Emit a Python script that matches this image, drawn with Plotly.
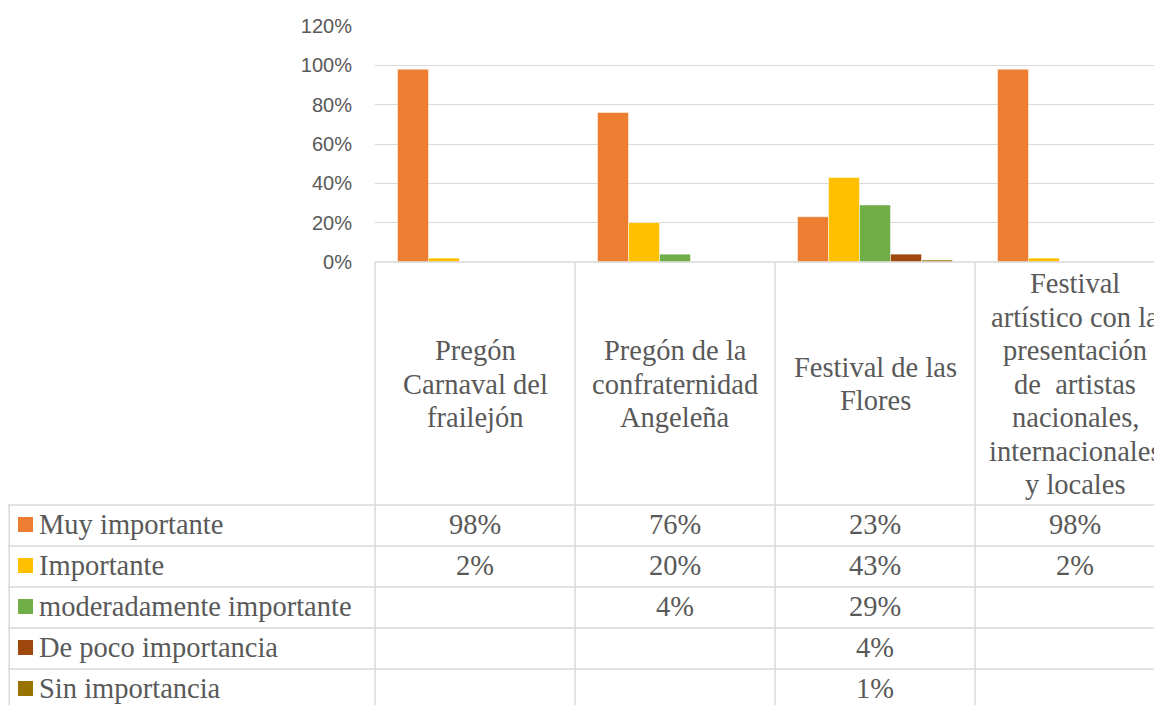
import plotly.graph_objects as go

# datos
categorias = [
    ["Pregón", "Carnaval del", "frailejón"],
    ["Pregón de la", "confraternidad", "Angeleña"],
    ["Festival de las", "Flores"],
    ["Festival", "artístico con la", "presentación", "de  artistas",
     "nacionales,", "internacionales", "y locales"],
]
series = ["Muy importante", "Importante", "moderadamente importante",
          "De poco importancia", "Sin importancia"]
muy_importante = [0.98, 0.76, 0.23, 0.98]
importante = [0.02, 0.20, 0.43, 0.02]
moderadamente = [None, 0.04, 0.29, None]
de_poco = [None, None, 0.04, None]
sin_importancia = [None, None, 0.01, None]
valores = [muy_importante, importante, moderadamente, de_poco, sin_importancia]
colores = ["#ED7D31", "#FFC000", "#70AD47", "#9E480E", "#997300"]

W, H = 1162, 705
OFF = 8  # margen del body de la pagina
gris = "#595959"
linea = "#D9D9D9"
serif = "Liberation Serif"
tam = 28.5

# posiciones en pixeles (coordenadas de pantalla) de la tabla de datos
x_izq, x_eje = 8, 375
ancho_col = 200
y_cero, y_tope = 262, 26
filas_y = [505, 546, 587, 628, 669, 710]
filas_txt = [524.5, 565.5, 606.5, 647.5, 688.5]
interlinea = 33.5
centro_cat = 384


def px_x(x):
    return (x - OFF) / W


def px_y(y):
    return 1 - (y - OFF) / H


fig = go.Figure()
idx = list(range(len(categorias)))
for nombre, vals, col in zip(series, valores, colores):
    fig.add_trace(go.Bar(x=idx, y=vals, name=nombre, marker_color=col,
                         marker_line=dict(color="rgba(255,255,255,0.6)", width=0.8),
                         showlegend=False))

x_fin = -0.5 + (W + OFF - x_eje) / ancho_col

fig.update_layout(
    width=W, height=H,
    margin=dict(l=0, r=0, t=0, b=0, autoexpand=False),
    plot_bgcolor="white", paper_bgcolor="white",
    barmode="group", bargap=0.225, bargroupgap=0,
    xaxis=dict(domain=[px_x(x_eje), 1], range=[-0.5, x_fin],
               showticklabels=False, showgrid=False, zeroline=False,
               ticks="", automargin=False),
    yaxis=dict(domain=[px_y(y_cero), px_y(y_tope)], range=[0, 1.2],
               tickvals=[0, 0.2, 0.4, 0.6, 0.8, 1.0, 1.2], tickformat=".0%",
               gridcolor=linea, gridwidth=1.3, zeroline=False,
               tickfont=dict(family="Liberation Sans", size=20, color=gris),
               ticks="", ticklabelstandoff=22, automargin=False),
)

shapes = []
# linea superior de la tabla (eje)
shapes.append(dict(type="line", xref="paper", yref="paper",
                   x0=px_x(x_eje), x1=1, y0=px_y(y_cero), y1=px_y(y_cero),
                   line=dict(color=linea, width=1.5)))
# lineas horizontales de filas
for y in filas_y[:-1]:
    shapes.append(dict(type="line", xref="paper", yref="paper",
                       x0=px_x(x_izq), x1=1, y0=px_y(y), y1=px_y(y),
                       line=dict(color=linea, width=1.5)))
# borde izquierdo
shapes.append(dict(type="line", xref="paper", yref="paper",
                   x0=px_x(x_izq) + 0.001, x1=px_x(x_izq) + 0.001,
                   y0=px_y(filas_y[0]), y1=0,
                   line=dict(color=linea, width=1.5)))
# lineas verticales de columnas
for i in range(len(categorias)):
    x = x_eje + i * ancho_col
    shapes.append(dict(type="line", xref="paper", yref="paper",
                       x0=px_x(x), x1=px_x(x), y0=px_y(y_cero), y1=0,
                       line=dict(color=linea, width=1.5)))

anots = []
# etiquetas de categorias, linea por linea
for i, lineas in enumerate(categorias):
    n = len(lineas)
    for k, txt in enumerate(lineas):
        yc = centro_cat + (k - (n - 1) / 2) * interlinea
        anots.append(dict(xref="paper", yref="paper",
                          x=px_x(x_eje + (i + 0.5) * ancho_col), y=px_y(yc),
                          text=txt, showarrow=False,
                          xanchor="center", yanchor="middle",
                          font=dict(family=serif, size=tam, color=gris)))

# filas de la tabla
for j, (nombre, vals, col) in enumerate(zip(series, valores, colores)):
    yc = filas_txt[j]
    shapes.append(dict(type="rect", xref="paper", yref="paper",
                       x0=px_x(18), x1=px_x(33), y0=px_y(yc - 7.5), y1=px_y(yc + 7.5),
                       fillcolor=col, line=dict(width=0)))
    anots.append(dict(xref="paper", yref="paper", x=px_x(37), y=px_y(yc),
                      text=nombre, showarrow=False, xanchor="left", yanchor="middle",
                      font=dict(family=serif, size=tam, color=gris)))
    for i, v in enumerate(vals):
        if v is None:
            continue
        anots.append(dict(xref="paper", yref="paper",
                          x=px_x(x_eje + (i + 0.5) * ancho_col), y=px_y(yc),
                          text=f"{round(v * 100)}%", showarrow=False,
                          xanchor="center", yanchor="middle",
                          font=dict(family=serif, size=tam, color=gris)))

fig.update_layout(shapes=shapes, annotations=anots)
fig.write_html("out.html")
